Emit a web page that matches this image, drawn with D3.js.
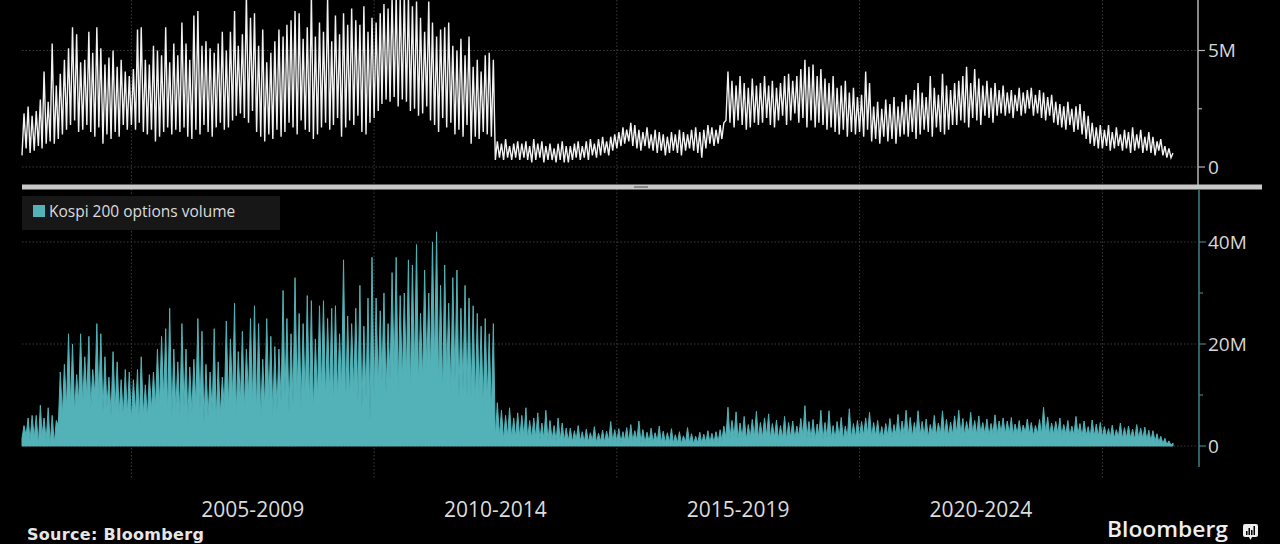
<!DOCTYPE html>
<html>
<head>
<meta charset="utf-8">
<script src="https://cdn.jsdelivr.net/npm/d3@7"></script>
<style>
  html, body { margin: 0; background: #000; }
  svg { display: block; font-family: "Open Sans", "Noto Sans", sans-serif; }
</style>
</head>
<body>
<div id="chart"></div>
<script>
const width = 1280;
const height = 544;

// monthly series, first month is Oct 2002, last is Jun 2026 (values in millions)
const firstMonth = new Date(2002, 9, 1);
const lastDate = new Date(2026, 5, 16);

const periodLabels = ["2005-2009", "2010-2014", "2015-2019", "2020-2024"];
const gridYears = [2005, 2010, 2015, 2020, 2025];
const topTicks = [0, 2.5, 5];
const topLabels = [0, 5];
const bottomTicks = [0, 10, 20, 30, 40];
const bottomLabels = [0, 20, 40];
const legendLabel = "Kospi 200 options volume";

// top panel (white line): monthly peaks / troughs
const futHigh = [
  2.3, 2.6, 2.2,
  2.4, 2.9, 4.1, 2.8, 5.3, 3.5, 4.0, 4.6, 5.1, 6.0, 5.7, 4.5,
  4.6, 5.8, 4.9, 6.0, 5.1, 4.4, 4.7, 5.0, 4.3, 4.6, 4.1, 3.9,
  4.2, 5.9, 6.0, 4.6, 4.4, 5.2, 5.0, 4.8, 6.0, 4.5, 5.3, 4.8,
  6.2, 5.3, 4.6, 6.5, 6.7, 5.2, 5.4, 5.1, 4.9, 5.3, 5.8, 5.0,
  5.8, 6.7, 5.2, 5.7, 7.4, 6.4, 6.6, 5.2, 5.9, 4.5, 4.9, 5.4,
  5.9, 5.6, 6.1, 6.3, 6.7, 6.6, 5.5, 6.0, 7.4, 5.6, 6.2, 5.8,
  7.3, 5.4, 6.5, 5.7, 6.6, 6.1, 6.8, 6.3, 6.1, 6.9, 5.8, 6.4,
  6.2, 6.6, 7.0, 6.8, 7.3, 7.4, 7.2, 7.4, 7.3, 6.9, 7.1, 6.4,
  5.8, 7.1, 6.2, 5.6, 5.9, 6.0, 6.2, 5.2, 5.0, 5.5, 4.8, 5.6,
  4.3, 4.6, 4.1, 4.8, 4.9, 4.6, 1.1, 1.0, 1.2, 0.9, 1.0, 1.1,
  1.0, 1.1, 0.9, 1.2, 1.0, 1.1, 0.9, 1.0, 0.8, 1.0, 1.1, 0.9,
  0.9, 1.0, 1.1, 0.9, 1.1, 1.2, 1.0, 1.2, 1.3, 1.1, 1.3, 1.4,
  1.5, 1.7, 1.6, 1.9, 1.8, 1.6, 1.5, 1.7, 1.4, 1.6, 1.5, 1.4,
  1.3, 1.5, 1.4, 1.6, 1.5, 1.4, 1.6, 1.7, 1.5, 1.6, 1.8, 1.7,
  1.6, 1.8, 1.9, 4.1, 3.7, 3.5, 3.9, 3.6, 3.4, 3.8, 3.5, 3.6,
  3.9, 3.5, 3.7, 3.4, 3.6, 3.9, 4.0, 3.7, 3.9, 4.2, 4.6, 4.3,
  4.4, 3.9, 4.2, 3.8, 3.6, 3.9, 3.4, 3.5, 3.7, 3.2, 3.4, 3.0,
  3.1, 4.1, 3.6, 2.6, 2.8, 2.5, 2.9, 2.7, 3.0, 2.6, 2.8, 3.1,
  2.9, 3.3, 3.6, 3.2, 3.0, 3.9, 3.4, 3.1, 4.0, 3.5, 3.3, 3.6,
  3.7, 3.9, 4.3, 3.6, 4.2, 3.8, 3.5, 3.7, 3.4, 3.6, 3.3, 3.5,
  3.2, 3.3, 3.1, 3.4, 3.2, 3.3, 3.4, 3.1, 3.3, 3.2, 3.0, 3.1,
  2.8, 2.7, 2.6, 2.8, 2.5, 2.6, 2.7, 2.4, 2.2, 1.9, 1.7, 1.8,
  1.6, 1.8, 1.5, 1.7, 1.4, 1.6, 1.5, 1.7, 1.4, 1.6, 1.3, 1.5,
  1.3, 1.1, 1.2, 0.9, 0.8, 0.6
];
const futLow = [
  0.5, 0.8, 0.6,
  0.7, 0.9, 0.8, 1.0, 1.1, 1.0, 1.2, 1.4, 1.6, 1.8, 2.0, 1.5,
  1.6, 1.8, 1.5, 1.3, 1.7, 1.0, 1.4, 1.2, 1.5, 1.3, 1.8, 1.6,
  1.8, 1.6, 1.9, 1.5, 1.4, 1.6, 1.1, 1.3, 1.5, 1.7, 1.4, 1.6,
  1.5, 1.7, 1.3, 1.2, 1.6, 1.4, 1.8, 1.5, 1.3, 1.7, 1.9, 1.6,
  1.7, 2.0, 2.2, 2.3, 2.1, 1.9, 2.4, 1.5, 1.3, 1.1, 1.4, 1.2,
  1.6, 1.3, 1.5, 1.9, 1.7, 1.4, 2.0, 1.6, 1.5, 1.2, 1.4, 1.7,
  1.9, 1.6, 1.8, 2.1, 1.3, 1.7, 2.0, 1.8, 2.2, 1.5, 1.4, 1.9,
  2.1, 2.4, 2.7, 2.9, 2.8, 3.0, 2.6, 2.9, 2.8, 2.4, 2.5, 2.2,
  2.3, 2.6, 2.0, 1.8, 1.5, 2.1, 1.7, 1.9, 1.4, 1.6, 1.3, 1.8,
  1.0, 1.3, 1.2, 1.5, 1.4, 1.3, 0.3, 0.4, 0.3, 0.4, 0.3, 0.4,
  0.3, 0.4, 0.3, 0.2, 0.3, 0.4, 0.2, 0.3, 0.3, 0.2, 0.3, 0.2,
  0.2, 0.3, 0.4, 0.3, 0.4, 0.3, 0.5, 0.4, 0.5, 0.6, 0.5, 0.7,
  0.8, 0.9, 1.0, 1.1, 0.9, 0.8, 0.7, 0.9, 0.8, 0.7, 0.6, 0.7,
  0.5, 0.6, 0.7, 0.6, 0.5, 0.7, 0.8, 0.7, 0.6, 0.4, 0.8, 1.0,
  0.9, 1.0, 1.2, 2.0, 1.9, 1.7, 2.0, 1.8, 1.6, 1.7, 1.9, 1.8,
  1.9, 2.1, 1.8, 1.7, 2.0, 2.2, 1.8, 2.0, 2.3, 1.9, 2.1, 1.7,
  2.0, 1.7, 1.9, 1.8, 1.6, 1.7, 1.5, 1.4, 1.6, 1.3, 1.5, 1.4,
  1.5, 1.3, 1.6, 1.1, 1.2, 1.0, 1.3, 1.1, 1.2, 1.0, 1.3, 1.4,
  1.3, 1.5, 1.2, 1.4, 1.6, 1.5, 1.3, 1.7, 1.5, 1.4, 1.6, 1.8,
  1.8, 2.0, 1.9, 1.7, 2.1, 2.0, 1.8, 2.2, 2.1, 1.9, 2.2, 2.3,
  2.2, 2.3, 2.1, 2.4, 2.2, 2.3, 2.5, 2.2, 2.3, 2.1, 2.0, 2.2,
  1.9, 1.8, 1.7, 1.6, 1.8, 1.5, 1.6, 1.4, 1.2, 1.0, 0.9, 0.8,
  0.8, 0.9, 0.7, 0.8, 0.9, 0.7, 0.8, 0.6, 0.7, 0.8, 0.6, 0.7,
  0.6, 0.5, 0.7, 0.5, 0.4, 0.4
];

// bottom panel (teal area): Kospi 200 options volume, monthly peaks / troughs
const optHigh = [
  4.0, 5.5, 6.0,
  6.0, 8.0, 5.5, 7.5, 6.0, 5.0, 14.5, 16.0, 22.0, 20.0, 14.0, 22.0,
  17.5, 21.5, 15.0, 24.0, 22.0, 17.5, 13.5, 18.5, 16.5, 13.0, 15.0, 14.5,
  13.0, 15.0, 17.5, 12.0, 14.0, 14.5, 19.0, 21.5, 23.0, 27.0, 19.0, 16.5,
  24.0, 19.0, 15.5, 17.0, 25.0, 22.5, 16.0, 14.5, 23.0, 16.5, 13.5, 24.5,
  21.0, 28.0, 18.5, 22.5, 19.0, 25.0, 27.5, 24.0, 17.0, 25.0, 21.5, 19.5,
  19.0, 30.5, 25.0, 22.0, 33.0, 26.0, 24.0, 29.5, 28.5, 21.0, 27.5, 28.5,
  25.0, 27.0, 27.5, 22.0, 36.5, 25.5, 24.0, 27.0, 31.5, 23.5, 29.0, 37.0,
  29.0, 26.5, 30.0, 24.0, 34.0, 37.0, 29.5, 30.0, 36.5, 35.5, 39.5, 26.0,
  34.5, 30.0, 40.0, 42.0, 31.5, 35.5, 28.0, 33.0, 34.5, 27.0, 31.5, 29.0,
  27.5, 26.0, 23.5, 25.0, 22.0, 24.0, 8.5, 7.0, 6.0, 7.5, 5.5, 6.5,
  6.0, 7.5, 5.0, 5.5, 6.5, 4.5, 7.0, 5.0, 4.0, 5.5, 4.5, 3.5,
  3.5, 3.0, 4.0, 2.8, 3.3, 2.6, 3.8, 2.5, 3.1, 2.9, 4.8, 3.2,
  3.4, 2.8, 3.6, 4.2, 3.0, 4.9, 3.2, 2.7, 3.5, 2.6, 3.9, 2.9,
  2.6, 3.4, 2.2, 2.8, 2.0, 3.6, 2.4, 1.9, 2.7, 2.3, 3.0, 2.5,
  2.8, 3.2, 3.9, 7.6, 5.0, 6.7, 4.5, 5.8, 4.2, 5.2, 6.8, 4.6,
  5.5, 6.3, 4.4, 5.1, 4.0, 5.8, 4.6, 4.9, 3.9, 5.4, 7.9, 4.8,
  5.2, 4.3, 7.0, 4.6, 6.9, 4.0, 4.8, 5.6, 3.9, 7.3, 4.4, 5.0,
  4.8, 5.5, 6.6, 4.6, 5.0, 3.8, 4.4, 5.4, 4.2, 6.2, 4.9, 7.0,
  5.6, 4.6, 6.9, 4.8, 5.3, 4.2, 6.0, 4.5, 6.9, 5.2, 4.7, 5.9,
  7.0, 5.4, 4.8, 6.6, 5.0, 5.9, 4.6, 5.3, 4.4, 6.1, 4.9, 5.5,
  4.9, 5.6, 4.3, 5.0, 4.1, 5.3, 4.6, 4.0, 5.2, 7.6, 5.7, 4.5,
  4.8, 5.5, 4.2, 5.0, 3.9, 5.8, 4.4, 4.9, 3.8, 5.1, 4.3, 4.6,
  3.8, 3.4, 4.1, 3.2, 4.5, 3.6, 3.9, 3.3, 4.2, 3.5, 3.7, 3.1,
  3.0, 2.4, 1.9, 1.5, 1.0, 0.6
];
const optLow = [
  1.5, 2.0, 1.0,
  1.5, 0.2, 2.0, 1.0, 0.3, 0.5, 4.0, 6.0, 7.5, 8.0, 6.5, 8.5,
  8.0, 9.5, 7.0, 10.0, 8.5, 6.5, 7.5, 6.0, 7.0, 6.5, 5.5, 6.0,
  5.0, 6.5, 4.5, 6.0, 5.5, 7.0, 7.5, 8.0, 9.0, 6.5, 5.5, 7.0,
  6.0, 7.5, 5.0, 6.5, 8.0, 7.0, 4.5, 5.5, 6.5, 5.0, 6.0, 7.5,
  7.5, 9.0, 6.0, 8.5, 7.0, 9.5, 8.0, 6.5, 5.5, 7.5, 8.5, 6.0,
  7.0, 8.5, 9.5, 6.5, 8.0, 10.0, 7.5, 9.0, 8.0, 6.5, 9.5, 10.5,
  9.0, 10.0, 8.0, 9.5, 11.0, 7.5, 9.0, 10.5, 8.5, 7.0, 9.5, 5.0,
  9.0, 11.5, 12.5, 10.0, 13.0, 14.0, 11.0, 12.5, 13.5, 10.5, 14.5, 12.0,
  13.0, 15.0, 14.0, 16.0, 12.0, 10.0, 13.5, 11.0, 12.5, 9.5, 11.0, 10.0,
  9.5, 8.5, 10.0, 7.5, 9.0, 6.5, 1.5, 2.0, 1.2, 1.8, 1.4, 1.6,
  1.5, 1.8, 1.2, 1.4, 1.6, 1.1, 1.3, 1.0, 1.2, 0.9, 1.1, 1.0,
  1.0, 0.8, 1.1, 0.9, 0.7, 0.8, 1.0, 0.6, 0.9, 0.7, 1.0, 0.8,
  0.9, 0.7, 1.0, 0.8, 0.9, 1.1, 0.7, 0.6, 0.8, 0.7, 0.9, 0.6,
  0.6, 0.7, 0.5, 0.6, 0.4, 0.7, 0.5, 0.4, 0.6, 0.5, 0.7, 0.6,
  0.7, 0.8, 1.0, 1.6, 1.4, 1.8, 1.3, 1.5, 1.2, 1.6, 1.7, 1.4,
  1.6, 1.9, 1.4, 1.7, 1.3, 1.5, 1.2, 1.6, 1.4, 1.8, 2.0, 1.5,
  1.5, 1.3, 1.8, 1.2, 1.6, 1.4, 1.3, 1.7, 1.2, 1.5, 1.4, 1.6,
  1.8, 2.0, 2.3, 1.7, 1.9, 1.5, 1.6, 1.9, 1.6, 2.1, 1.8, 2.2,
  2.0, 1.8, 2.4, 2.1, 1.9, 1.7, 2.2, 2.0, 2.3, 2.1, 1.9, 2.2,
  2.5, 2.3, 2.1, 2.6, 2.4, 2.2, 2.5, 2.3, 2.0, 2.4, 2.2, 2.6,
  2.3, 2.5, 2.1, 2.4, 2.2, 2.6, 2.3, 2.0, 2.4, 2.2, 2.5, 2.1,
  2.2, 2.4, 2.0, 2.3, 1.9, 2.1, 2.2, 1.8, 2.0, 1.7, 1.9, 1.8,
  1.7, 1.8, 1.6, 1.5, 1.7, 1.4, 1.6, 1.5, 1.3, 1.5, 1.4, 1.2,
  1.0, 0.9, 0.7, 0.5, 0.3, 0.2
];

const svg = d3.select("#chart")
  .append("svg")
  .attr("width", width)
  .attr("height", height);

svg.append("rect").attr("width", width).attr("height", height).attr("fill", "#000");

const axisX = 1198;
const x = d3.scaleTime().domain([firstMonth, lastDate]).range([22, 1173]);
const yTop = d3.scaleLinear().domain([0, 5]).range([167, 50.5]);
const yBot = d3.scaleLinear().domain([0, 40]).range([446, 242]);

// trough at the start of each month, peak mid-month
function toPoints(lows, highs) {
  const pts = [];
  lows.forEach((lo, i) => {
    const m = d3.timeMonth.offset(firstMonth, i);
    pts.push({ date: m, value: lo });
    pts.push({ date: d3.timeDay.offset(m, 15), value: highs[i] });
  });
  return pts;
}
const futPoints = toPoints(futLow, futHigh);
const optPoints = toPoints(optLow, optHigh);

// vertical grid
svg.append("g")
  .selectAll("line")
  .data(gridYears)
  .join("line")
  .attr("x1", d => x(new Date(d, 0, 1)))
  .attr("x2", d => x(new Date(d, 0, 1)))
  .attr("y1", 0)
  .attr("y2", 478)
  .attr("stroke", "#3c3c3c")
  .attr("stroke-dasharray", "1.5,2");

// horizontal grid
svg.append("g")
  .selectAll("line")
  .data(topLabels)
  .join("line")
  .attr("x1", 22).attr("x2", axisX)
  .attr("y1", d => yTop(d)).attr("y2", d => yTop(d))
  .attr("stroke", "#3c3c3c")
  .attr("stroke-dasharray", "1.5,2");

svg.append("g")
  .selectAll("line")
  .data(bottomLabels)
  .join("line")
  .attr("x1", 22).attr("x2", axisX)
  .attr("y1", d => yBot(d)).attr("y2", d => yBot(d))
  .attr("stroke", "#3c3c3c")
  .attr("stroke-dasharray", "1.5,2");

// top series
svg.append("path")
  .datum(futPoints)
  .attr("fill", "none")
  .attr("stroke", "#f2f2f2")
  .attr("stroke-width", 1.4)
  .attr("d", d3.line().x(d => x(d.date)).y(d => yTop(d.value)));

// bottom series
svg.append("path")
  .datum(optPoints)
  .attr("fill", "#52b2b7")
  .attr("stroke", "#52b2b7")
  .attr("stroke-width", 1)
  .attr("d", d3.area().x(d => x(d.date)).y0(yBot(0)).y1(d => yBot(d.value)));

// top axis
const topAxis = svg.append("g").attr("transform", `translate(${axisX},0)`);
topAxis.append("line").attr("y1", 0).attr("y2", 186).attr("stroke", "#b5b5b5").attr("stroke-width", 1.5);
topAxis.selectAll(".tick")
  .data(topTicks)
  .join("line")
  .attr("x1", 0)
  .attr("x2", d => topLabels.includes(d) ? 7 : 4)
  .attr("y1", d => yTop(d)).attr("y2", d => yTop(d))
  .attr("stroke", "#b5b5b5")
  .attr("stroke-width", 1.2);
topAxis.selectAll("text")
  .data(topLabels)
  .join("text")
  .attr("x", 10)
  .attr("y", d => yTop(d))
  .attr("dy", "0.36em")
  .attr("fill", "#d8d8d8")
  .attr("font-size", 19)
  .text(d => d === 0 ? "0" : d + "M");

// bottom axis
const botAxis = svg.append("g").attr("transform", `translate(${axisX + 1},0)`);
botAxis.append("line").attr("y1", 190).attr("y2", 467).attr("stroke", "#3f8184").attr("stroke-width", 1.5);
botAxis.selectAll(".tick")
  .data(bottomTicks)
  .join("line")
  .attr("x1", 0)
  .attr("x2", d => bottomLabels.includes(d) ? 7 : 4)
  .attr("y1", d => yBot(d)).attr("y2", d => yBot(d))
  .attr("stroke", "#3f8184")
  .attr("stroke-width", 1.2);
botAxis.selectAll("text")
  .data(bottomLabels)
  .join("text")
  .attr("x", 9)
  .attr("y", d => yBot(d))
  .attr("dy", "0.36em")
  .attr("fill", "#d8d8d8")
  .attr("font-size", 19)
  .text(d => d === 0 ? "0" : d + "M");

// divider between panels
svg.append("rect")
  .attr("x", 22).attr("y", 184.5)
  .attr("width", 1240).attr("height", 5)
  .attr("fill", "#c8c8c8");
svg.append("rect")
  .attr("x", 634).attr("y", 186)
  .attr("width", 14).attr("height", 2)
  .attr("fill", "#8a8a8a");

// legend
const legend = svg.append("g");
legend.append("rect")
  .attr("x", 22).attr("y", 196)
  .attr("width", 258).attr("height", 34)
  .attr("fill", "#171717");
legend.append("rect")
  .attr("x", 33).attr("y", 205)
  .attr("width", 12).attr("height", 12)
  .attr("fill", "#52b2b7");
legend.append("text")
  .attr("x", 49).attr("y", 217)
  .attr("fill", "#dcdcdc")
  .attr("font-size", 15.5)
  .text(legendLabel);

// period labels between grid years
svg.append("g")
  .selectAll("text")
  .data(periodLabels)
  .join("text")
  .attr("x", (d, i) => (x(new Date(gridYears[i], 0, 1)) + x(new Date(gridYears[i + 1], 0, 1))) / 2)
  .attr("y", 517)
  .attr("text-anchor", "middle")
  .attr("fill", "#dcdcdc")
  .attr("font-size", 21)
  .text(d => d);

// footer
svg.append("text")
  .attr("x", 27).attr("y", 540)
  .attr("fill", "#e6e6e6")
  .attr("font-family", "'DejaVu Sans', sans-serif")
  .attr("font-size", 16)
  .attr("font-weight", 700)
  .attr("letter-spacing", 0.3)
  .text("Source:  Bloomberg");

svg.append("text")
  .attr("x", 1107).attr("y", 537)
  .attr("fill", "#eeeeee")
  .attr("font-size", 21)
  .attr("font-weight", 600)
  .attr("textLength", 121)
  .attr("lengthAdjust", "spacingAndGlyphs")
  .text("Bloomberg");

const logo = svg.append("g").attr("transform", "translate(1243,524)");
logo.append("rect").attr("width", 15).attr("height", 13).attr("rx", 2).attr("fill", "#eeeeee");
logo.append("path").attr("d", "M6,13 L7.5,16 L9,13 Z").attr("fill", "#eeeeee");
logo.selectAll(".bar")
  .data([4, 7, 5, 9])
  .join("rect")
  .attr("x", (d, i) => 3 + i * 2.5)
  .attr("y", d => 11 - d)
  .attr("width", 1.5)
  .attr("height", d => d)
  .attr("fill", "#000");
</script>
</body>
</html>
